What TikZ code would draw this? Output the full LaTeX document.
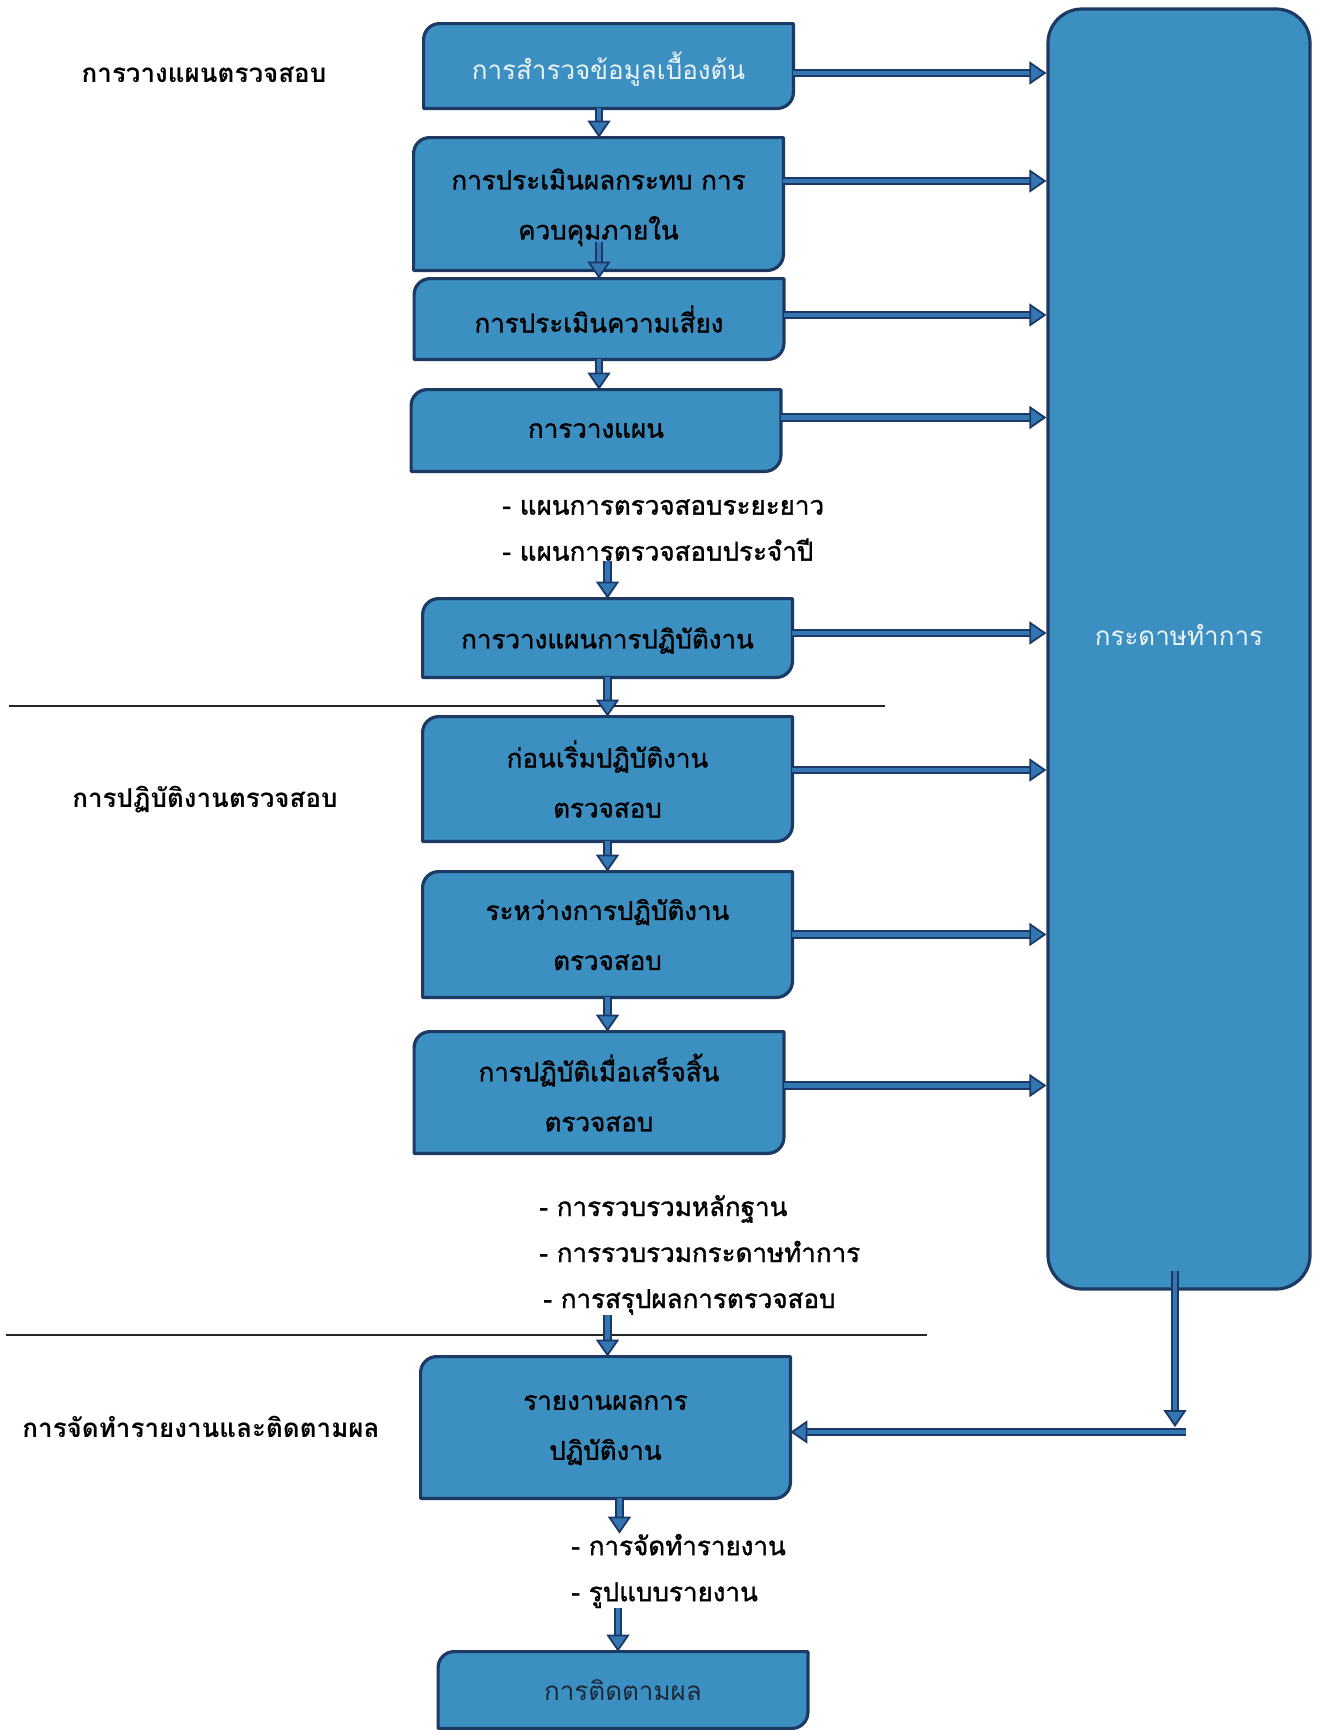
\documentclass[tikz,border=0pt]{standalone}
\usepackage{fontspec}
\setmainfont[Script=Thai]{Loma}
\newfontfamily\thaimid[Script=Thai, FakeBold=1.3]{Loma}
\usepackage{tikz}
\usetikzlibrary{arrows.meta, positioning, backgrounds}
\definecolor{boxfill}{RGB}{60, 143, 193}
\definecolor{boxborder}{RGB}{28, 58, 100}
\definecolor{flowfill}{RGB}{52, 118, 178}
\definecolor{flowedge}{RGB}{26, 56, 104}
\definecolor{lighttext}{RGB}{236, 244, 250}
\definecolor{softtext}{RGB}{28, 40, 56}
\tikzstyle{stage} = [rectangle, inner sep=0pt, align=center, text=black, minimum width=184.5pt,
                     text depth=-4pt, font=\fontsize{13}{25}\selectfont\thaimid]
\tikzstyle{stageline} = [draw=boxborder, fill=boxfill, line width=1.6pt, line join=round]
\tikzstyle{phase} = [font=\fontsize{13}{16}\selectfont\bfseries, text=black]
\tikzstyle{notes} = [anchor=west, inner sep=0pt, align=left, font=\fontsize{13}{23}\selectfont\thaimid]
\tikzstyle{flow} = [line width=2.4pt, draw=flowfill,
                    -{Triangle[length=8.5pt, width=11.5pt, line width=0.9pt, color=flowedge, fill=flowfill]},
                    preaction={draw=flowedge, line width=4.4pt, arrows=-, shorten >=7pt}]
\tikzstyle{sepline} = [line width=0.8pt, draw=black!85]

\begin{document}
\begin{tikzpicture}[x=0.5pt, y=-0.5pt]
    \useasboundingbox (0,0) rectangle (1321,1730);
    \begin{scope}[on background layer]
        \fill[white] (0,0) rectangle (1321,1730);
    \end{scope}

    % phases on the left
    \node[phase] (phaseplan) at (204,75) {การวางแผนตรวจสอบ};
    \node[phase] (phasework) at (205,800) {การปฏิบัติงานตรวจสอบ};
    \node[phase] (phasereport) at (201,1427) {การจัดทำรายงานและติดตามผล};

    % main column
    \node[stage, minimum height=42pt, text=lighttext, font=\fontsize{13}{25}\selectfont] (survey) at (608.5,66) {การสำรวจข้อมูลเบื้องต้น};
    \node[stage, minimum height=66pt] (impact) at (598.5,204) {การประเมินผลกระทบ การ\\ควบคุมภายใน};
    \node[stage, minimum height=40pt] (risk) at (599,319) {การประเมินความเสี่ยง};
    \node[stage, minimum height=40.5pt] (plan) at (596,430.5) {การวางแผน};
    \node[notes] (planlist) at (502,530) {- แผนการตรวจสอบระยะยาว\\- แผนการตรวจสอบประจำปี};
    \node[stage, minimum height=39pt] (opplan) at (607.5,638) {การวางแผนการปฏิบัติงาน};
    \node[stage, minimum height=62pt] (before) at (607.5,779) {ก่อนเริ่มปฏิบัติงาน\\ตรวจสอบ};
    \node[stage, minimum height=62.5pt] (during) at (607.5,934.5) {ระหว่างการปฏิบัติงาน\\ตรวจสอบ};
    \node[stage, minimum height=60.5pt] (after) at (599,1092.5) {การปฏิบัติเมื่อเสร็จสิ้น\\ตรวจสอบ};
    \node[notes] (worklist) at (539,1255) {- การรวบรวมหลักฐาน\\- การรวบรวมกระดาษทำการ\\\hspace{2pt}- การสรุปผลการตรวจสอบ};
    \node[stage, minimum height=70.5pt] (report) at (605.5,1427.5) {รายงานผลการ\\ปฏิบัติงาน};
    \node[notes] (reportlist) at (571,1571) {- การจัดทำรายงาน\\- รูปแบบรายงาน};
    \node[stage, minimum height=38pt, text=softtext, font=\fontsize{13}{25}\selectfont] (follow) at (623,1690) {การติดตามผล};

    % working papers
    \node[stageline, rounded corners=17pt, minimum width=131pt, minimum height=640pt, text depth=14pt,
          text=lighttext, font=\fontsize{13}{16}\selectfont] (paper) at (1179,649) {กระดาษทำการ};

    % box outlines behind the text
    \begin{scope}[on background layer]
        \foreach \n in {survey, impact, risk, plan, opplan, before, during, after, report, follow}
            \draw[stageline] (\n.south west) -- ([yshift=-8pt]\n.north west)
                arc[start angle=180, end angle=90, radius=8pt] -- (\n.north east)
                -- ([yshift=8pt]\n.south east)
                arc[start angle=0, end angle=-90, radius=8pt] -- cycle;
    \end{scope}

    % section rules
    \draw[sepline] (9,706) -- (885,706);
    \draw[sepline] (6,1335) -- (927,1335);

    % down the column
    \draw[flow] (survey.south -| risk.north) -- (impact.north -| risk.north);
    \draw[flow] ([yshift=14pt]impact.south -| risk.north) -- (risk.north);
    \draw[flow] (risk.south) -- (plan.north -| risk.south);
    \draw[flow] (planlist.south -| opplan.north) -- (opplan.north);
    \draw[flow] (opplan.south) -- (before.north);
    \draw[flow] (before.south) -- (during.north);
    \draw[flow] (during.south -| before.south) -- (after.north -| before.south);
    \draw[flow] (worklist.south -| opplan.north) -- (report.north -| opplan.north);
    \draw[flow] ([xshift=7pt]report.south) -- ([xshift=7pt]report.south |- reportlist.north);
    \draw[flow] ([xshift=-2.5pt]follow.north |- reportlist.south) -- ([xshift=-2.5pt]follow.north);

    % into the working papers
    \foreach \n/\s in {survey/-3.5, impact/11.5, risk/2, plan/6.5, opplan/2.5, before/4.5, during/0, after/3.5} {
        \coordinate (out) at ([yshift=\s pt]\n.east);
        \draw[flow] (out) -- (out -| paper.west);
    }

    % back to the report
    \coordinate (drop) at ([xshift=-2pt, yshift=10pt]paper.south);
    \coordinate (elbow) at (1186,1432);
    \path (drop |- elbow) ++(0,-5) coordinate (droptip);
    \draw[flow] (drop) -- (droptip);
    \draw[flow] (elbow) -- (elbow -| report.east);
\end{tikzpicture}
\end{document}
